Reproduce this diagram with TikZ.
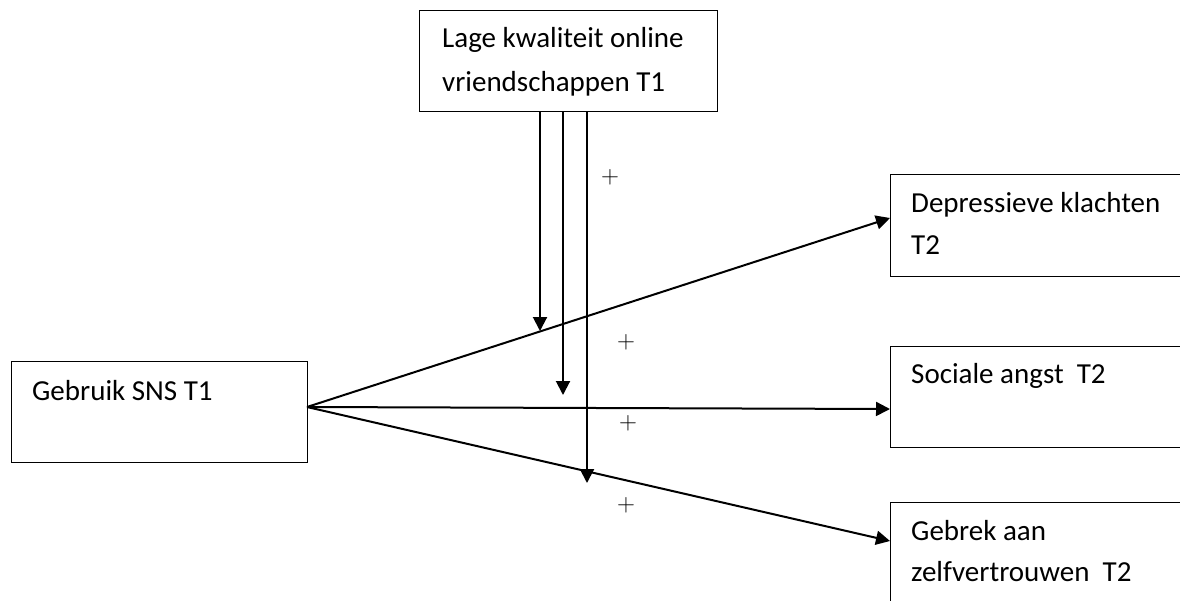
\documentclass[tikz,border=0pt]{standalone}
\usepackage{fontspec}
\setmainfont{Carlito}
\usetikzlibrary{arrows.meta,calc}
\tikzset{
  box/.style={draw=black, line width=1pt, anchor=north west, inner sep=0pt, outer sep=0pt},
  lbl/.style={anchor=base west, inner sep=0pt, font=\fontsize{29}{34}\selectfont},
  conn/.style={line width=2pt, -{Triangle[length=14pt,width=14pt]}},
  plus/.style={inner sep=0pt, font=\fontsize{23}{26}\selectfont}
}
\begin{document}
\begin{tikzpicture}[x=1pt,y=-1pt]
\useasboundingbox (0,0) rectangle (1180,600);
\clip (0,0) rectangle (1180,600);
% boxes
\node[box, minimum width=298pt, minimum height=101pt] (lage) at (419,10) {};
\node[box, minimum width=296pt, minimum height=101pt] (gb) at (11,361) {};
\node[box, minimum width=400pt, minimum height=102pt] (dep) at (890,174) {};
\node[box, minimum width=400pt, minimum height=101pt] (soc) at (890,346) {};
\node[box, minimum width=400pt, minimum height=120pt] (zelf) at (890,502) {};
% labels
\node[lbl] (t1) at (442,47) {Lage kwaliteit online};
\node[lbl] (t2) at (442,91) {vriendschappen T1};
\node[lbl] (t3) at (32,400) {Gebruik SNS T1};
\node[lbl] (t4) at (911,212) {Depressieve klachten};
\node[lbl] (t5) at (911,254) {T2};
\node[lbl] (t6) at (911,383) {Sociale angst\ \ T2};
\node[lbl] (t7) at (911,540) {Gebrek aan};
\node[lbl] (t8) at (911,581) {zelfvertrouwen\ \ T2};
% connectors
\coordinate (src) at ($(gb.north east)+(0,46)$);
\coordinate (e1) at ($(dep.north west)+(0,44)$);
\coordinate (e2) at ($(soc.north west)+(0,63)$);
\coordinate (e3) at ($(zelf.north west)+(0,39)$);
\draw[conn] (src) -- (e1);
\draw[conn] (src) -- (e2);
\draw[conn] (src) -- (e3);
\coordinate (v1) at (540,331);
\coordinate (v2) at (563,395);
\coordinate (v3) at (587,483);
\draw[conn] (lage.south -| v1) -- (v1);
\draw[conn] (lage.south -| v2) -- (v2);
\draw[conn] (lage.south -| v3) -- (v3);
% plus signs
\node[plus] (p1) at (610,177) {$+$};
\node[plus] (p2) at (626,342) {$+$};
\node[plus] (p3) at (628,423) {$+$};
\node[plus] (p4) at (626,505) {$+$};
\end{tikzpicture}
\end{document}
